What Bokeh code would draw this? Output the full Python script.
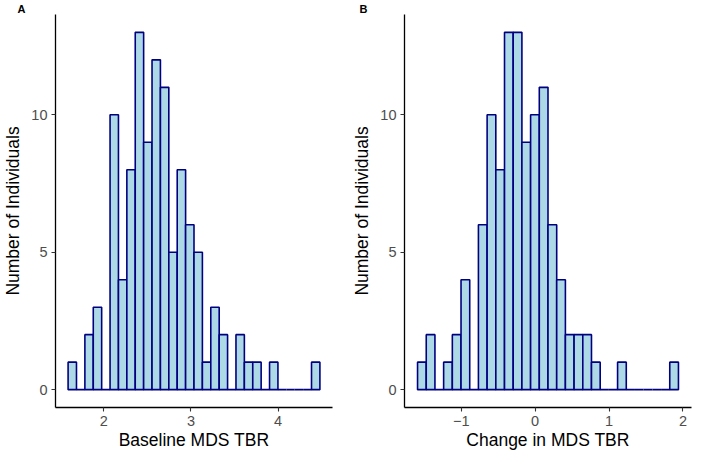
import numpy as np
from bokeh.plotting import figure
from bokeh.layouts import row
from bokeh.models import Title, Range1d
from bokeh.embed import file_html
from bokeh.resources import INLINE

# Panel A: Baseline MDS TBR histogram
a_bin_start = 1.59
a_bin_end = 4.48
a_counts = [1, 0, 2, 3, 0, 10, 4, 8, 13, 9, 12, 11, 5, 8, 6, 5, 1, 3, 2, 0,
            2, 1, 1, 0, 1, 0, 0, 0, 0, 1]
a_ticks = [2, 3, 4]
a_tick_labels = ["2", "3", "4"]

# Panel B: Change in MDS TBR histogram
b_bin_start = -1.591
b_bin_end = 1.939
b_counts = [1, 2, 0, 1, 2, 4, 0, 6, 10, 8, 13, 13, 9, 10, 11, 6, 4, 2, 2, 2,
            1, 0, 0, 1, 0, 0, 0, 0, 0, 1]
b_ticks = [-1, 0, 1, 2]
b_tick_labels = ["\u22121", "0", "1", "2"]

y_ticks = [0, 5, 10]
y_label = "Number of Individuals"

FONT = "Liberation Sans"
FILL = "#ADD8E6"
EDGE = "#000080"
H = 452
BOTTOM = 40


def make_panel(bin_start, bin_end, counts, ticks, tick_labels, xlabel, tag,
               width, border_left, border_right, tag_left):
    counts = np.array(counts, dtype=float)
    edges = np.linspace(bin_start, bin_end, len(counts) + 1)
    span = bin_end - bin_start
    xr = Range1d(bin_start - 0.05 * span, bin_end + 0.05 * span)
    ymax = counts.max()
    yr = Range1d(-0.05 * ymax, ymax * 1.05)
    p = figure(width=width, height=H, x_range=xr, y_range=yr,
               output_backend="svg", toolbar_location=None,
               min_border_left=border_left, min_border_right=border_right,
               min_border_top=0, min_border_bottom=BOTTOM)
    p.outline_line_color = None
    p.xgrid.visible = False
    p.ygrid.visible = False
    p.background_fill_color = "white"
    p.quad(left=edges[:-1], right=edges[1:], bottom=0, top=counts,
           fill_color=FILL, line_color=EDGE, line_width=1.6)

    for ax in (p.xaxis[0], p.yaxis[0]):
        ax.axis_line_color = "black"
        ax.axis_line_width = 1.3
        ax.major_tick_line_color = "#333333"
        ax.major_tick_line_width = 1.1
        ax.major_tick_out = 4
        ax.major_tick_in = 0
        ax.minor_tick_line_color = None
        ax.major_label_text_font = FONT
        ax.major_label_text_font_size = "14.5px"
        ax.major_label_text_color = "#4D4D4D"
        ax.axis_label_text_font = FONT
        ax.axis_label_text_font_size = "17.5px"
        ax.axis_label_text_font_style = "normal"
        ax.axis_label_text_color = "black"

    p.xaxis.ticker = ticks
    p.xaxis.major_label_overrides = {t: l for t, l in zip(ticks, tick_labels)}
    p.xaxis.axis_label = xlabel
    p.xaxis.major_label_standoff = 4
    p.xaxis.axis_label_standoff = 1
    p.yaxis.ticker = y_ticks
    p.yaxis.axis_label = y_label
    p.yaxis.major_label_standoff = 4
    p.yaxis.axis_label_standoff = 5

    t = Title(text=tag, align="left", offset=-(border_left - tag_left),
              standoff=0, text_font=FONT, text_font_size="11px",
              text_font_style="bold", text_color="black")
    p.add_layout(t, "above")
    return p


pa = make_panel(a_bin_start, a_bin_end, a_counts, a_ticks, a_tick_labels,
                "Baseline MDS TBR", "A", 349, 40, 17, 2)
pb = make_panel(b_bin_start, b_bin_end, b_counts, b_ticks, b_tick_labels,
                "Change in MDS TBR", "B", 344, 48, 2, 3)

layout = row(pa, pb)
open("out.html", "w").write(file_html(layout, INLINE))
